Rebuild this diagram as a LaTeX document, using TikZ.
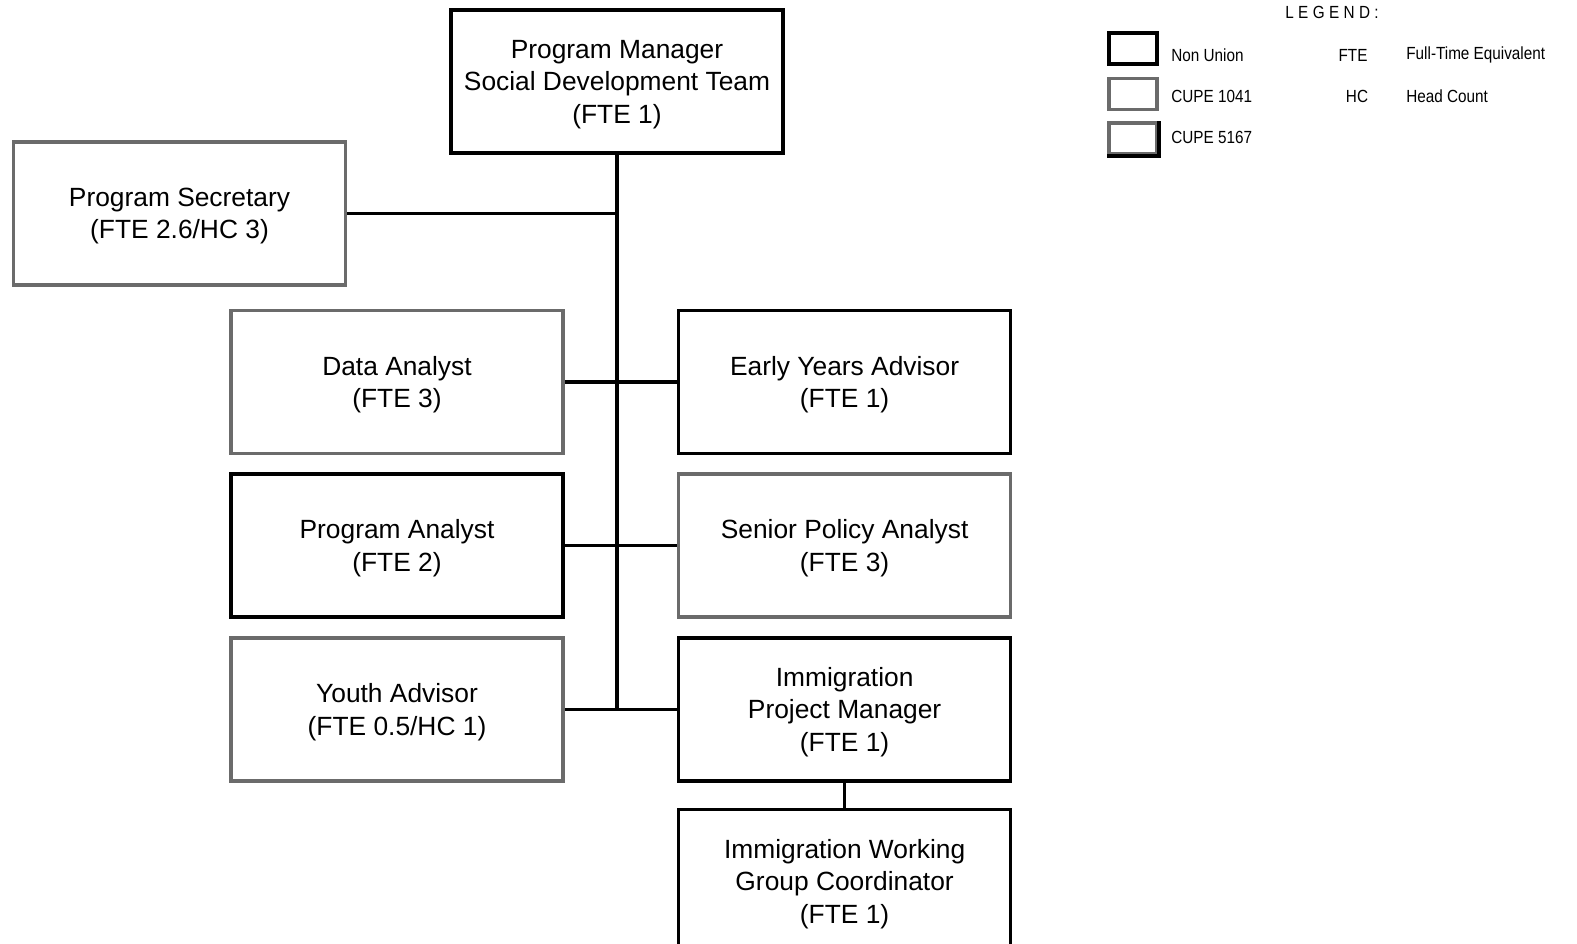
\documentclass[tikz,border=0pt]{standalone}
\usepackage{fontspec}
\setmainfont{Liberation Sans}
\newfontfamily\narrowfont[FakeStretch=0.87]{Liberation Sans}
\newfontfamily\spacedfont[FakeStretch=0.87,LetterSpace=25]{Liberation Sans}
\usetikzlibrary{positioning}
\definecolor{cupegray}{gray}{0.42}

\begin{document}
\begin{tikzpicture}[x=0.02cm,y=-0.02cm,
box/.style={draw,line width=2.1pt,align=center,minimum width=6.64cm,minimum height=2.86cm,inner sep=0pt,text depth=-4pt,font=\fontsize{15}{18.5}\selectfont},
cupe/.style={box,draw=cupegray},
ln/.style={line width=2pt},
key/.style={draw,line width=2pt,minimum width=0.96cm,minimum height=0.62cm,inner sep=0pt},
keytxt/.style={font=\narrowfont\fontsize{10}{12}\selectfont,inner sep=0pt},
node distance=0.34cm and 2.24cm]
\useasboundingbox (0,0) rectangle (1577,943);
\node[box] (pm) at (617,81.5) {Program Manager\\Social Development Team\\(FTE 1)};
\node[cupe] (ps) at (179.5,213.5) {Program Secretary\\(FTE 2.6/HC 3)};
\node[cupe] (da) at (397,382) {Data Analyst\\(FTE 3)};
\node[box,below=of da] (pa) {Program Analyst\\(FTE 2)};
\node[cupe,below=of pa] (ya) {Youth Advisor\\(FTE 0.5/HC 1)};
\node[box,right=of da] (ey) {Early Years Advisor\\(FTE 1)};
\node[cupe,right=of pa] (sp) {Senior Policy Analyst\\(FTE 3)};
\node[box,right=of ya] (ip) {Immigration\\Project Manager\\(FTE 1)};
\node[box,below=0.5cm of ip] (iw) {Immigration Working\\Group Coordinator\\(FTE 1)};
\coordinate (jn) at (pm.south |- ip.west);
\draw[ln] (pm.south)--(jn);\draw[ln] (ps.east)--(ps.east -| pm.south);
\draw[ln] (da.east)--(ey.west);\draw[ln] (pa.east)--(sp.west);\draw[ln] (ya.east)--(ip.west);
\draw[ln] (ip.south)--(iw.north);
% legend
\node[font=\spacedfont\fontsize{10}{12}\selectfont] (lg) at (1332,12) {LEGEND:};
\node[key] (k1) at (1133,48.5) {};
\node[key,draw=cupegray] (k2) at (1133,94) {};
\node[key,draw=cupegray] (k3) at (1133,138.5) {};
\draw[line width=2pt] (k3.north east)--(k3.south east)--(k3.south west);
\node[keytxt,anchor=west] (t1) at (1171,55) {Non Union};
\node[keytxt,anchor=west] (t2) at (1171,96) {CUPE 1041};
\node[keytxt,anchor=west] (t3) at (1171,137) {CUPE 5167};
\node[keytxt] (a1) at (1353,55) {FTE};
\node[keytxt] (a2) at (1357,96) {HC};
\node[keytxt,anchor=west] (d1) at (1406,55) {Full-Time Equivalent};
\node[keytxt,anchor=west] (d2) at (1406,96) {Head Count};
\end{tikzpicture}
\end{document}
